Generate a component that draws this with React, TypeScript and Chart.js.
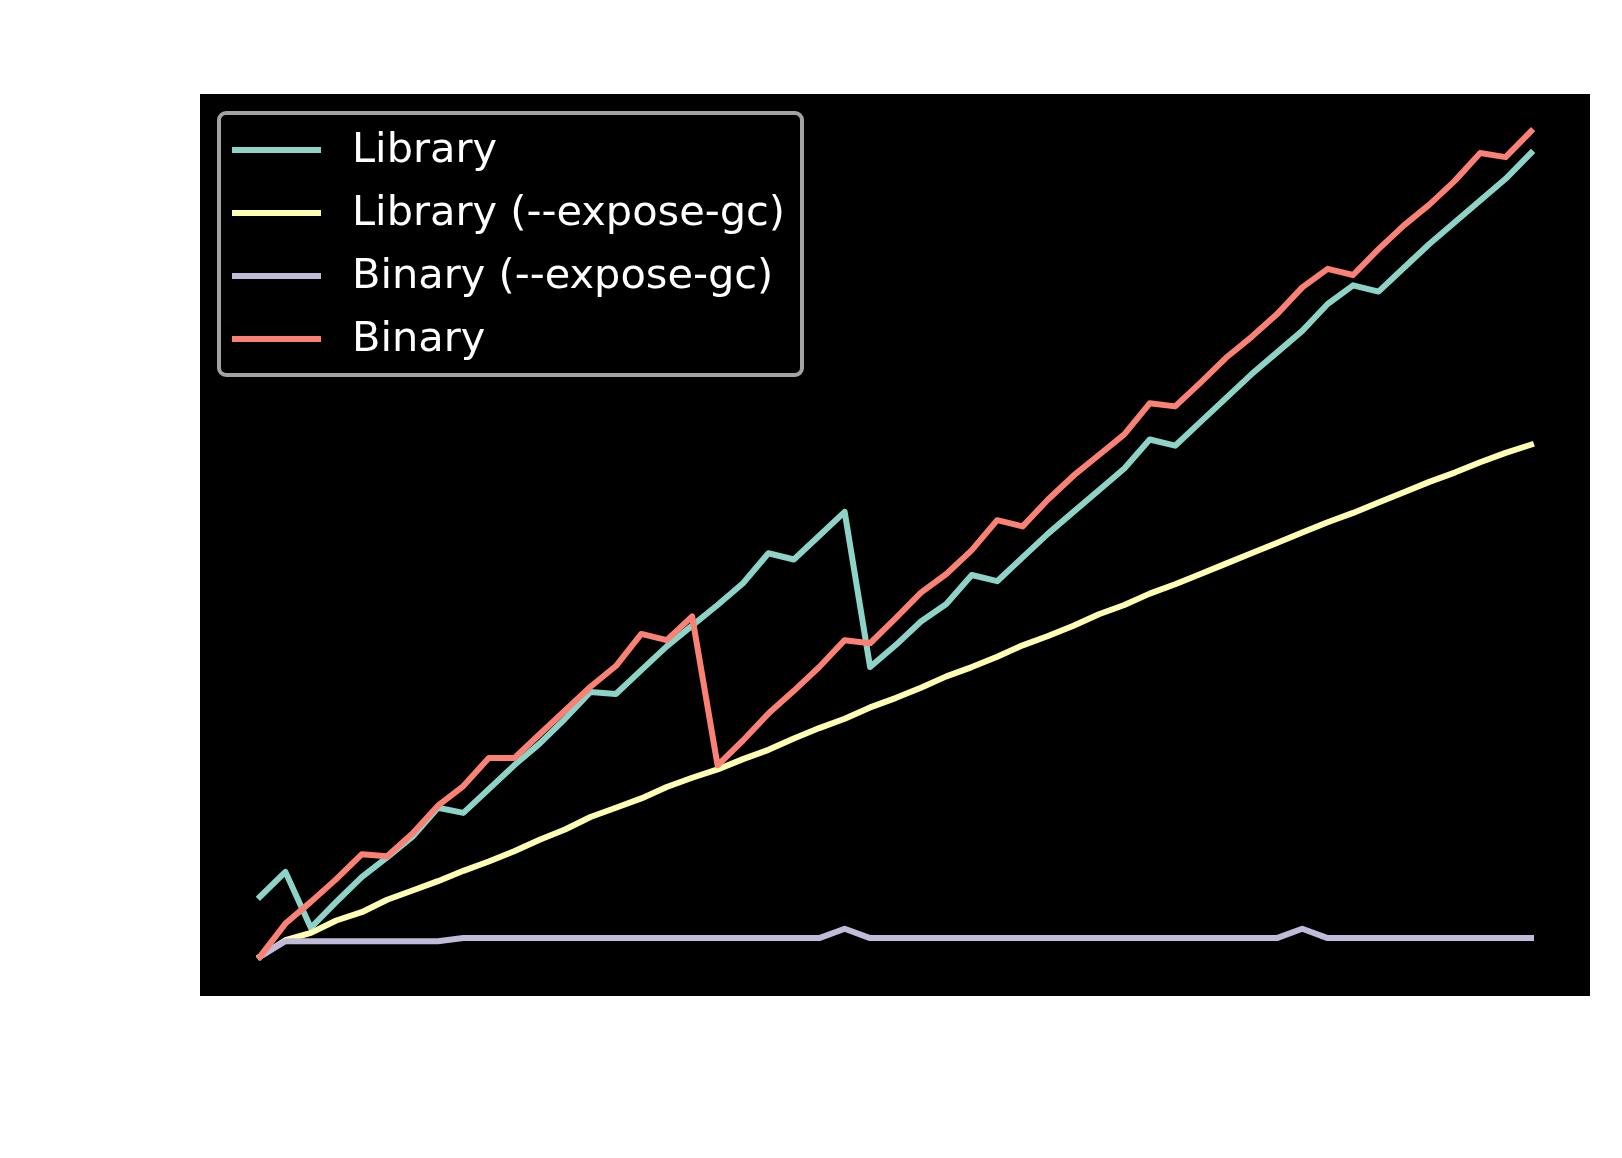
import React, { useEffect, useRef } from "react";
import { Chart, registerables } from "chart.js";

Chart.register(...registerables);

// Run index (x axis)
const runs = [
  0, 1, 2, 3, 4, 5, 6, 7, 8, 9, 10, 11, 12, 13, 14, 15, 16, 17, 18, 19, 20,
  21, 22, 23, 24, 25, 26, 27, 28, 29, 30, 31, 32, 33, 34, 35, 36, 37, 38, 39,
  40, 41, 42, 43, 44, 45, 46, 47, 48, 49, 50,
];

const seriesLabels = [
  "Library",
  "Library (--expose-gc)",
  "Binary (--expose-gc)",
  "Binary",
];

const seriesColors = ["#8dd3c7", "#feffb3", "#bfbbd9", "#fa8174"];

const library = [
  96, 120, 66, 91, 115, 134, 154, 182, 177, 200, 223, 244, 268, 294, 292, 315,
  338, 358, 378, 399, 428, 422, 445, 468, 318, 339, 362, 379, 407, 401, 424,
  447, 468, 489, 510, 538, 532, 555, 578, 601, 622, 643, 669, 687, 681, 704,
  727, 748, 769, 790, 815,
];

const libraryGc = [
  38, 54, 61, 73, 81, 93, 102, 111, 121, 130, 140, 151, 161, 173, 182, 191,
  202, 211, 219, 229, 238, 249, 259, 268, 279, 288, 298, 309, 318, 328, 339,
  348, 358, 369, 378, 389, 398, 408, 418, 428, 438, 448, 458, 467, 477, 487,
  497, 506, 516, 525, 533,
];

const binaryGc = [
  38, 53, 53, 53, 53, 53, 53, 53, 56, 56, 56, 56, 56, 56, 56, 56, 56, 56, 56,
  56, 56, 56, 56, 65, 56, 56, 56, 56, 56, 56, 56, 56, 56, 56, 56, 56, 56, 56,
  56, 56, 56, 65, 56, 56, 56, 56, 56, 56, 56, 56, 56,
];

const binary = [
  38, 70, 91, 113, 137, 135, 157, 184, 203, 230, 230, 253, 276, 299, 319, 350,
  344, 367, 223, 247, 273, 295, 318, 344, 341, 365, 390, 408, 431, 460, 454,
  480, 503, 523, 543, 573, 570, 593, 617, 637, 659, 685, 703, 697, 722, 745,
  765, 788, 815, 811, 836,
];

const seriesValues = [library, libraryGc, binaryGc, binary];

const W = 1622;
const H = 1158;

const axesBg = {
  id: "axesBg",
  beforeDraw(chart: any) {
    const { ctx, chartArea } = chart;
    ctx.save();
    ctx.fillStyle = "#ffffff";
    ctx.fillRect(0, 0, chart.width, chart.height);
    ctx.fillStyle = "#000000";
    ctx.fillRect(
      chartArea.left,
      chartArea.top,
      chartArea.right - chartArea.left,
      chartArea.bottom - chartArea.top
    );
    ctx.restore();
  },
};

function roundRect(ctx: any, x: number, y: number, w: number, h: number, r: number) {
  ctx.beginPath();
  ctx.moveTo(x + r, y);
  ctx.lineTo(x + w - r, y);
  ctx.arcTo(x + w, y, x + w, y + r, r);
  ctx.lineTo(x + w, y + h - r);
  ctx.arcTo(x + w, y + h, x + w - r, y + h, r);
  ctx.lineTo(x + r, y + h);
  ctx.arcTo(x, y + h, x, y + h - r, r);
  ctx.lineTo(x, y + r);
  ctx.arcTo(x, y, x + r, y, r);
  ctx.closePath();
}

const mplLegend = {
  id: "mplLegend",
  afterDatasetsDraw(chart: any) {
    const { ctx, chartArea } = chart;
    const x0 = chartArea.left + 19;
    const y0 = chartArea.top + 19;
    const w = 583;
    const h = 262;
    ctx.save();
    roundRect(ctx, x0, y0, w, h, 7);
    ctx.fillStyle = "#000000";
    ctx.fill();
    ctx.lineWidth = 4;
    ctx.strokeStyle = "#a3a3a3";
    ctx.stroke();
    ctx.font = "41.5px 'DejaVu Sans'";
    ctx.textBaseline = "middle";
    ctx.textAlign = "left";
    chart.data.datasets.forEach((ds: any, i: number) => {
      const cy = y0 + 37 + i * 63;
      ctx.beginPath();
      ctx.moveTo(x0 + 13, cy);
      ctx.lineTo(x0 + 102, cy);
      ctx.lineWidth = 6;
      ctx.lineCap = "butt";
      ctx.strokeStyle = ds.borderColor;
      ctx.stroke();
      ctx.fillStyle = "#ffffff";
      ctx.fillText(ds.label, x0 + 133, cy + 1);
    });
    ctx.restore();
  },
};

export default function App() {
  const canvasRef = useRef<HTMLCanvasElement | null>(null);

  useEffect(() => {
    document.body.style.margin = "0";
    const canvas = canvasRef.current;
    if (!canvas) return;
    const datasets = seriesLabels.map((label, i) => ({
      label,
      data: runs.map((r, j) => ({ x: r, y: seriesValues[i][j] })),
      borderColor: seriesColors[i],
      backgroundColor: seriesColors[i],
      borderWidth: 6,
      pointRadius: 0,
      pointHoverRadius: 0,
      tension: 0,
      fill: false,
      borderJoinStyle: "round" as const,
      borderCapStyle: "square" as const,
      order: seriesLabels.length - i,
    }));
    const chart = new Chart(canvas, {
      type: "line",
      data: { datasets },
      options: {
        animation: false,
        responsive: false,
        devicePixelRatio: 1,
        layout: { padding: { left: 200, top: 94, right: 32, bottom: 162 } },
        plugins: {
          legend: { display: false },
          tooltip: { enabled: false },
        },
        scales: {
          x: { type: "linear", min: -2.36, max: 52.32, display: false },
          y: { type: "linear", min: 0, max: 872, display: false },
        },
      },
      plugins: [axesBg, mplLegend],
    });
    return () => chart.destroy();
  }, []);

  return (
    <div style={{ position: "absolute", left: 0, top: 0, width: W, height: H, background: "#ffffff" }}>
      <canvas ref={canvasRef} width={W} height={H} style={{ width: W, height: H, display: "block" }} />
    </div>
  );
}
